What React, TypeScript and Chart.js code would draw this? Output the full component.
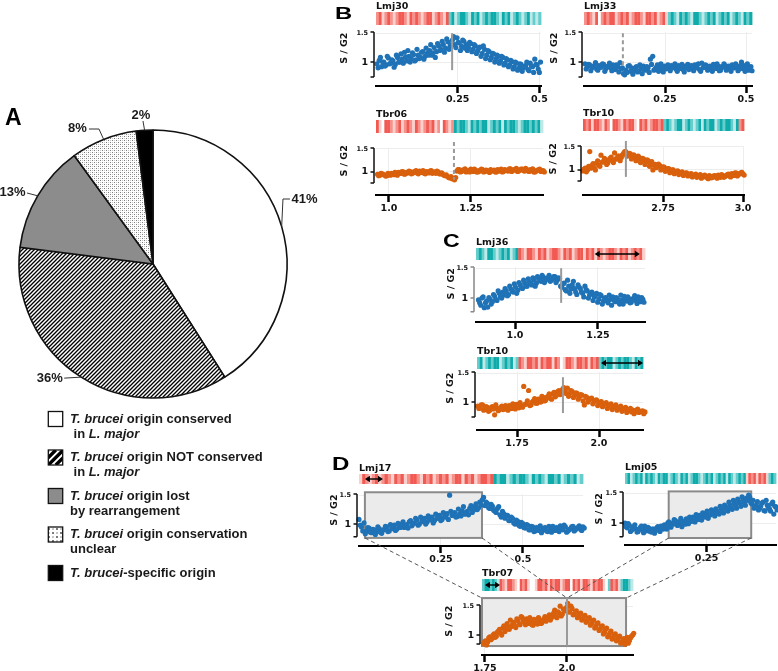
import React, { useEffect, useRef } from "react";
import { Chart, registerables } from "chart.js";
Chart.register(...registerables);

// ================= DATA =================
const pieCategories = [
  "T. brucei origin conserved in L. major",
  "T. brucei origin NOT conserved in L. major",
  "T. brucei origin lost by rearrangement",
  "T. brucei origin conservation unclear",
  "T. brucei-specific origin",
];
const pieValues = [41, 36, 13, 8, 2];
const pieValueLabels = pieValues.map((v) => v + "%");

// legend text: [text, italic]
const legendLines: [string, boolean][][][] = [
  [[["T. brucei", true], [" origin conserved", false]], [[" in ", false], ["L. major", true]]],
  [[["T. brucei", true], [" origin NOT conserved", false]], [[" in ", false], ["L. major", true]]],
  [[["T. brucei", true], [" origin lost", false]], [["by rearrangement", false]]],
  [[["T. brucei", true], [" origin conservation", false]], [["unclear", false]]],
  [[["T. brucei", true], ["-specific origin", false]]],
];

// S/G2 values (two interleaved sets of bins over each region)
const lmj30Y = [0.97,1.03,0.92,1.0,0.95,1.07,0.98,1.02,0.96,1.08,1.0,1.05,1.17,1.02,1.1,1.06,1.13,1.04,1.12,1.08,1.18,1.1,1.15,1.2,1.12,1.25,1.18,1.28,1.22,1.3,1.24,1.35,1.28,1.38,1.3,1.42,1.33,1.27,1.36,1.3,1.25,1.32,1.22,1.28,1.19,1.26,1.15,1.22,1.12,1.18,1.08,1.14,1.05,1.1,1.02,1.08,0.98,1.04,0.95,1.01,0.92,0.98,0.89,0.96,0.9,0.94,0.87,0.98,0.92,1.05,0.95,0.82];
const lmj30Y2 = [0.9,1.08,1.0,0.93,1.1,0.97,1.04,0.91,1.12,1.0,1.14,0.98,1.09,1.2,1.0,1.16,1.02,1.22,1.06,1.17,1.05,1.24,1.12,1.3,1.16,1.08,1.32,1.2,1.36,1.17,1.4,1.22,1.3,1.44,1.25,1.34,1.2,1.38,1.24,1.2,1.34,1.18,1.3,1.15,1.24,1.1,1.28,1.06,1.2,1.04,1.15,1.0,1.12,0.98,1.1,0.95,1.06,0.92,1.03,0.88,1.0,0.86,0.97,0.84,0.92,1.0,0.85,0.93,0.82,0.96,0.88,1.0];
const lmj33Y = [0.97,0.92,0.95,0.9,0.93,0.88,0.94,0.91,0.96,0.89,0.93,0.9,0.95,0.87,0.92,0.99,0.9,0.78,0.82,0.94,0.9,0.85,0.92,0.84,0.89,0.93,0.86,0.9,1.05,1.1,0.88,0.95,0.9,0.87,0.93,0.89,0.91,0.94,0.92,0.88,0.94,0.9,0.87,0.93,0.96,0.89,0.92,0.95,0.9,0.87,0.98,0.91,0.94,0.88,0.92,0.96,0.89,0.93,0.86,0.91,0.94,0.88,0.92,0.95,0.9,0.93,0.88,1.0,0.94,0.9,0.86,0.92];
const lmj33Y2 = [0.88,0.96,0.85,0.93,0.99,0.86,0.91,0.97,0.84,0.92,0.98,0.85,0.9,0.95,0.83,0.88,0.8,0.86,0.93,0.84,0.79,0.9,0.83,0.95,0.8,0.87,0.92,0.82,0.96,0.86,0.91,0.84,0.97,0.83,0.88,0.95,0.85,0.9,0.97,0.84,0.89,0.96,0.83,0.9,0.87,0.94,0.85,0.91,0.97,0.84,0.9,0.95,0.86,0.93,0.84,0.9,0.97,0.85,0.92,0.97,0.86,0.93,0.84,0.9,0.97,0.85,0.94,0.89,0.84,0.97,0.91,0.85];
const tbr06Y = [0.95,0.93,0.96,0.94,0.92,0.95,0.97,0.94,0.96,0.99,0.97,1.0,0.96,0.98,1.01,0.97,1.0,0.98,1.02,0.99,0.97,1.01,0.98,1.03,0.99,0.97,1.0,0.96,0.95,0.92,0.9,0.87,0.85,0.83,1.02,1.05,1.01,1.04,1.0,1.03,1.06,1.01,1.04,1.0,1.02,1.05,1.01,1.03,0.99,1.02,1.04,1.0,1.03,1.06,1.01,1.04,1.02,1.07,1.03,1.05,1.01,1.04,1.06,1.02,1.05,1.01,1.03,1.0,1.02,1.04,1.01,1.03];
const tbr06Y2 = [0.92,0.97,0.94,0.91,0.97,0.93,0.95,0.99,0.93,0.97,1.01,0.95,0.99,1.02,0.96,1.0,1.03,0.96,0.99,1.03,0.96,0.99,1.02,0.97,1.0,1.02,0.96,0.98,0.93,0.94,0.88,0.9,0.86,0.88,1.05,1.0,1.04,1.07,1.02,1.0,1.04,1.06,1.0,1.03,1.06,1.0,1.04,1.01,1.05,1.03,1.0,1.05,1.02,1.0,1.05,1.03,1.07,1.01,1.05,1.08,1.02,1.06,1.03,1.08,1.02,1.05,1.07,1.0,1.04,1.06,1.02,1.0];
const tbr10bY = [0.98,1.04,1.0,1.4,1.1,1.05,1.15,1.1,1.32,1.18,1.22,1.15,1.25,1.2,1.37,1.24,1.3,1.27,1.36,1.4,1.32,1.35,1.28,1.3,1.24,1.27,1.2,1.23,1.17,1.2,1.14,1.0,1.12,1.08,1.1,1.04,1.06,1.0,1.03,0.97,1.0,0.95,0.98,0.93,0.96,0.91,0.94,0.9,0.92,0.88,0.91,0.87,0.9,0.85,0.89,0.84,0.88,0.83,0.87,0.85,0.89,0.84,0.88,0.86,0.9,0.87,0.92,0.88,0.93,0.9,0.94,0.91];
const tbr10bY2 = [1.02,0.96,1.08,1.04,1.14,1.0,1.2,1.08,1.17,1.25,1.12,1.22,1.28,1.16,1.24,1.3,1.2,1.33,1.4,1.3,1.36,1.24,1.33,1.2,1.3,1.16,1.25,1.12,1.22,1.08,1.18,1.1,1.05,1.13,1.0,1.07,0.97,1.03,0.94,1.0,0.92,0.97,0.9,0.95,0.88,0.93,0.87,0.91,0.85,0.89,0.84,0.88,0.82,0.87,0.85,0.81,0.86,0.84,0.88,0.82,0.86,0.9,0.84,0.88,0.91,0.85,0.89,0.94,0.87,0.92,0.95,0.89];
const lmj36Y = [0.97,0.88,1.02,0.92,0.85,0.98,0.94,1.03,0.96,1.08,1.0,1.05,1.12,1.06,1.15,1.1,1.18,1.13,1.22,1.16,1.25,1.2,1.27,1.22,1.3,1.25,1.33,1.28,1.35,1.3,1.34,1.28,1.32,1.36,1.3,1.33,1.18,1.25,1.12,1.2,1.15,1.28,1.1,1.22,1.16,1.08,1.2,1.12,1.05,1.1,1.02,1.08,0.98,1.04,0.95,1.01,0.92,0.98,1.02,0.94,0.99,0.9,0.97,1.03,0.95,0.99,0.93,1.0,0.96,1.02,0.94,0.98];
const lmj36Y2 = [0.92,1.0,0.84,0.95,1.01,0.9,1.06,0.98,1.12,1.02,1.1,1.16,1.04,1.2,1.12,1.24,1.08,1.26,1.18,1.3,1.2,1.32,1.25,1.34,1.2,1.36,1.3,1.38,1.26,1.33,1.38,1.3,1.36,1.26,1.34,1.2,1.24,1.14,1.3,1.08,1.22,1.16,1.06,1.18,1.1,1.02,1.14,1.0,1.08,0.96,1.04,0.93,1.06,0.9,1.0,0.95,1.05,0.88,0.97,1.01,0.93,1.05,0.9,0.96,1.02,0.92,0.98,1.04,0.91,0.97,1.01,0.93];
const tbr10cY = [0.93,0.9,0.95,0.88,0.91,0.86,0.92,0.78,0.89,0.87,0.93,0.88,0.9,0.94,0.89,0.92,0.96,0.9,0.94,1.27,0.97,1.2,0.95,1.02,0.98,1.05,1.0,1.08,1.03,1.1,1.06,1.14,1.09,1.18,1.13,1.22,1.2,1.24,1.15,1.18,1.12,1.15,1.09,1.12,0.95,1.08,1.04,1.07,1.01,1.04,0.98,1.01,0.96,0.99,0.93,0.97,0.91,0.95,0.89,0.93,0.87,0.91,0.85,0.89,0.86,0.83,0.88,0.84,0.85,0.83];
const tbr10cY2 = [0.89,0.95,0.86,0.92,0.84,0.9,0.88,0.95,0.85,0.91,0.87,0.94,0.86,0.91,0.97,0.88,0.93,0.99,0.91,0.96,1.02,0.94,1.0,1.06,0.98,1.04,1.1,1.02,1.08,1.14,1.05,1.17,1.12,1.2,1.16,1.25,1.15,1.1,1.2,1.08,1.16,1.05,1.13,1.02,1.1,1.0,1.06,0.97,1.03,0.94,1.0,0.92,0.97,0.89,0.95,0.87,0.93,0.86,0.91,0.84,0.89,0.82,0.87,0.83,0.8,0.86,0.82,0.84,0.8,0.85];
const lmj17Y = [1.08,0.95,1.02,0.88,0.93,0.85,0.9,0.87,0.92,0.84,0.9,0.95,0.88,0.93,0.98,0.91,0.96,1.0,0.94,0.99,1.04,0.97,1.02,1.07,1.0,1.05,1.1,1.03,1.08,1.12,1.06,1.1,1.15,1.08,1.13,1.18,1.5,1.15,1.2,1.13,1.18,1.23,1.17,1.22,1.27,1.2,1.3,1.25,1.38,1.42,1.32,1.36,1.27,1.31,1.22,1.27,1.16,1.22,1.1,1.15,1.06,1.1,1.0,1.05,0.96,1.01,0.93,0.98,0.9,0.95,0.88,0.93,0.97,0.9,0.94,0.87,0.92,0.96,0.89,0.93,0.97,0.9,0.95,0.88,0.92,0.96,0.9,0.94,0.91,0.95];
const lmj17Y2 = [0.98,0.88,0.83,0.94,0.86,0.91,0.82,0.95,0.86,0.9,0.96,0.87,0.99,0.92,0.89,1.01,0.94,1.04,0.97,0.93,1.06,1.0,1.1,0.98,1.12,1.04,1.0,1.14,1.07,1.02,1.17,1.1,1.06,1.2,1.12,1.08,1.22,1.16,1.12,1.26,1.14,1.3,1.2,1.16,1.32,1.24,1.35,1.28,1.33,1.46,1.38,1.28,1.34,1.24,1.2,1.3,1.12,1.18,1.15,1.06,1.12,1.02,1.07,0.98,1.03,0.94,0.99,0.9,0.96,0.87,0.94,0.89,0.85,0.93,0.88,0.96,0.86,0.91,0.94,0.87,0.92,0.98,0.86,0.9,0.95,0.88,0.93,0.97,0.89,0.93];
const lmj05Y = [1.0,0.92,0.96,0.88,0.94,0.9,0.86,0.93,0.89,0.95,0.87,0.91,0.85,0.9,0.88,0.94,0.86,0.92,0.97,0.9,1.02,0.93,0.98,1.04,0.96,1.0,0.94,1.03,1.07,0.99,1.05,1.1,1.02,1.08,1.13,1.05,1.11,1.16,1.08,1.14,1.19,1.12,1.2,1.15,1.24,1.17,1.27,1.2,1.3,1.23,1.33,1.25,1.36,1.28,1.4,1.3,1.38,1.43,1.32,1.25,1.3,1.22,1.28,1.35,1.2,1.3,1.24,1.32,1.15,1.27];
const lmj05Y2 = [0.94,0.99,0.86,0.92,0.97,0.85,0.9,0.95,0.84,0.91,0.93,0.86,0.9,0.83,0.92,0.88,0.95,0.9,0.93,1.0,0.95,1.0,1.06,0.99,1.02,1.08,1.01,0.98,1.04,1.1,1.03,1.07,1.14,1.06,1.1,1.17,1.1,1.2,1.13,1.22,1.16,1.24,1.17,1.28,1.21,1.3,1.24,1.35,1.26,1.38,1.3,1.4,1.33,1.44,1.35,1.42,1.47,1.34,1.38,1.28,1.36,1.25,1.33,1.21,1.38,1.26,1.2,1.35,1.28,1.22];
const tbr07Y = [0.85,0.9,0.88,0.97,0.94,1.02,0.98,1.07,1.03,1.12,1.06,1.2,1.1,1.15,1.22,1.13,1.25,1.18,1.3,1.22,1.28,1.2,1.25,1.17,1.23,1.19,1.26,1.21,1.28,1.24,1.31,1.26,1.34,1.43,1.3,1.38,1.33,1.45,1.42,1.55,1.4,1.46,1.36,1.42,1.32,1.38,1.28,1.34,1.24,1.3,1.2,1.26,1.15,1.21,1.1,1.16,1.05,1.12,1.0,1.07,0.96,1.02,0.92,0.98,0.88,0.94,0.9,0.86,0.95,1.0];
const tbr07Y2 = [0.88,0.83,0.95,0.92,1.0,0.96,1.05,1.1,1.0,1.16,1.1,1.14,1.26,1.18,1.16,1.28,1.2,1.32,1.25,1.18,1.24,1.3,1.18,1.27,1.22,1.3,1.2,1.25,1.32,1.27,1.35,1.3,1.38,1.32,1.4,1.5,1.36,1.42,1.48,1.4,1.5,1.35,1.4,1.3,1.36,1.26,1.32,1.22,1.28,1.17,1.25,1.12,1.2,1.08,1.14,1.02,1.1,0.97,1.04,0.93,1.0,0.9,0.96,0.86,0.92,0.84,0.96,0.9,0.98,1.03];

// genomic span (Mb) covered by the bins
const lmj30Span = [0.003, 0.5];
const lmj33Span = [0.003, 0.515];
const tbr06Span = [0.965, 1.47];
const tbr10bSpan = [2.5, 3.0];
const lmj36Span = [0.89, 1.385];
const tbr10cSpan = [1.63, 2.14];
const lmj17Span = [0.0, 0.683];
const lmj05Span = [0.0, 0.463];
const tbr07Span = [1.745, 2.2];

// x tick values & labels
const lmj30Ticks = [0.25, 0.5];   const lmj30TickLabels = ["0.25", "0.5"];
const lmj33Ticks = [0.25, 0.5];   const lmj33TickLabels = ["0.25", "0.5"];
const tbr06Ticks = [1.0, 1.25];   const tbr06TickLabels = ["1.0", "1.25"];
const tbr10bTicks = [2.75, 3.0];  const tbr10bTickLabels = ["2.75", "3.0"];
const lmj36Ticks = [1.0, 1.25];   const lmj36TickLabels = ["1.0", "1.25"];
const tbr10cTicks = [1.75, 2.0];  const tbr10cTickLabels = ["1.75", "2.0"];
const lmj17Ticks = [0.25, 0.5];   const lmj17TickLabels = ["0.25", "0.5"];
const lmj05Ticks = [0.25];        const lmj05TickLabels = ["0.25"];
const tbr07Ticks = [1.75, 2.0];   const tbr07TickLabels = ["1.75", "2.0"];
const yTicks = [1, 1.5];

// gene-direction strips (R/r/p = red shades, C/c/q = cyan shades, w = none)
const lmj30Strip = "rRprRrprRRrpRrRrprRRprRrpRcCqcCCcqCcCqcCcCCcqCcCqcCcqcCqcqc";
const lmj33Strip = "rRrpRwrRrRRprRrRprRRrpRRrRprRpcCcqCcCcqCCcqcCcCqcCcCqcCcqCcC";
const tbr06Strip = "RpwRRrprRprRrpRrprRrRprwRrprCcCCcqCcCcCCqcCcCqCcCCcqcCCcCcCq";
const tbr10bStrip = "RrRpRRrpRrwRRrpRrRRpwRrRprRRrRcCcqcCCqcCcqcCqCcCCqcCcCCcqCrR";
const lmj36Strip = "cCcqCCcqcCcCqcCRrpRRrpRrRprRRrpRrRprRRpRrRpRrprRRrpRrRprRrRp";
const tbr10cStrip = "cCqcCcCCqcCcCqcRrpRRrRpRrRRpRrwpRRrpRRrRpRrRcCcCCqcCcCCcqCcC";
const lmj17Strip = "pRrprRprRrpRrRprRRrpRrRprRrRprRRpRrRprRRrRCcCCqcCcCCcqCcCcqCCcCqcCcCqc";
const lmj05Strip = "cCqcCcCqCcCcqCcCCqcCcqCcCqcCCcqcCcCqcCcCqCcqcCcCpRrRpRrRpcCc";
const tbr07Strip = "cCCcCcqRrpRRrpwRrRpwwpRRrRpRrRRprRRwRrRpRRrpRrRRpwcRrRpcCCcq";

// replication-origin positions [x, yTop, yBottom]
const lmj30Origin = [0.233, 1.5, 0.86];
const lmj33Origin = [0.12, 1.5, 0.9];
const tbr06Origin = [1.198, 1.65, 0.83];
const tbr10bOrigin = [2.634, 1.63, 0.85];
const lmj36Origin = [1.139, 1.5, 0.92];
const tbr10cOrigin = [1.89, 1.43, 0.81];
const tbr07Origin = [2.0, 1.64, 0.81];

// double arrows [x0, x1]
const lmj36Arrow = [1.24, 1.376];
const tbr10cArrow = [2.006, 2.134];
const lmj17Arrow = [0.018, 0.073];
const tbr07Arrow = [1.75, 1.796];

// zoom boxes [x0, x1, yTop, yBottom]
const lmj17Box = [0.018, 0.375, 1.55, 0.76];
const lmj05Box = [0.134, 0.387, 1.53, 0.75];
const tbr07Box = [1.741, 2.18, 1.64, 0.81];

// ================= STYLE / LAYOUT =================
const W = 778, H = 671;
const BLUE = "#1f72b6";
const ORANGE = "#d9600c";
const STRIP_COLORS: Record<string, string> = {
  R: "#f15a52", r: "#f6928b", p: "#fbd0cc", w: "#ffffff",
  C: "#0fabab", c: "#66cdcd", q: "#bde9e9",
};
const TXT = '"DejaVu Sans", "Liberation Sans", sans-serif';
const ARIAL = '"Liberation Sans", Arial, sans-serif';

type Panel = {
  key: string; name: string; color: string; ys: number[]; ys2: number[]; span: number[];
  xMin: number; xMax: number; yMin: number; axisBottom: number;
  ticks: number[]; tickLabels: string[]; strip: string;
  origin?: number[]; dashed?: boolean; arrow?: number[]; box?: number[];
  L: number; R: number; T: number; B: number; stripTop: number; stripH: number;
  titleDx: number; axisColor: string;
};

const panels: Panel[] = [
  { key: "lmj30", name: "Lmj30", color: BLUE, ys: lmj30Y, ys2: lmj30Y2, span: lmj30Span, xMin: 0, xMax: 0.505, yMin: 0.586, axisBottom: 0.74,
    ticks: lmj30Ticks, tickLabels: lmj30TickLabels, strip: lmj30Strip, origin: lmj30Origin,
    L: 376, R: 541, T: 32, B: 86, stripTop: 12, stripH: 13, titleDx: 31, axisColor: "#111" },
  { key: "lmj33", name: "Lmj33", color: BLUE, ys: lmj33Y, ys2: lmj33Y2, span: lmj33Span, xMin: 0, xMax: 0.5185, yMin: 0.586, axisBottom: 0.74,
    ticks: lmj33Ticks, tickLabels: lmj33TickLabels, strip: lmj33Strip, origin: lmj33Origin, dashed: true,
    L: 584, R: 752, T: 32, B: 86, stripTop: 12, stripH: 13, titleDx: 29, axisColor: "#111" },
  { key: "tbr06", name: "Tbr06", color: ORANGE, ys: tbr06Y, ys2: tbr06Y2, span: tbr06Span, xMin: 0.9604, xMax: 1.4695, yMin: 0.5, axisBottom: 0.76,
    ticks: tbr06Ticks, tickLabels: tbr06TickLabels, strip: tbr06Strip, origin: tbr06Origin, dashed: true,
    L: 376, R: 543, T: 148, B: 195, stripTop: 120, stripH: 13, titleDx: 31, axisColor: "#111" },
  { key: "tbr10b", name: "Tbr10", color: ORANGE, ys: tbr10bY, ys2: tbr10bY2, span: tbr10bSpan, xMin: 2.5, xMax: 3.003, yMin: 0.457, axisBottom: 0.76,
    ticks: tbr10bTicks, tickLabels: tbr10bTickLabels, strip: tbr10bStrip, origin: tbr10bOrigin,
    L: 583, R: 744, T: 146, B: 195, stripTop: 119, stripH: 12, titleDx: 29, axisColor: "#111" },
  { key: "lmj36", name: "Lmj36", color: BLUE, ys: lmj36Y, ys2: lmj36Y2, span: lmj36Span, xMin: 0.8825, xMax: 1.3916, yMin: 0.6, axisBottom: 0.77,
    ticks: lmj36Ticks, tickLabels: lmj36TickLabels, strip: lmj36Strip, origin: lmj36Origin, arrow: lmj36Arrow,
    L: 476, R: 645, T: 267, B: 322, stripTop: 248, stripH: 12, titleDx: 24, axisColor: "#888" },
  { key: "tbr10c", name: "Tbr10", color: ORANGE, ys: tbr10cY, ys2: tbr10cY2, span: tbr10cSpan, xMin: 1.628, xMax: 2.134, yMin: 0.517, axisBottom: 0.74,
    ticks: tbr10cTicks, tickLabels: tbr10cTickLabels, strip: tbr10cStrip, origin: tbr10cOrigin, arrow: tbr10cArrow,
    L: 477, R: 643, T: 372, B: 430, stripTop: 357, stripH: 12, titleDx: 26, axisColor: "#111" },
  { key: "lmj17", name: "Lmj17", color: BLUE, ys: lmj17Y, ys2: lmj17Y2, span: lmj17Span, xMin: 0, xMax: 0.683, yMin: 0.62, axisBottom: 0.78,
    ticks: lmj17Ticks, tickLabels: lmj17TickLabels, strip: lmj17Strip, arrow: lmj17Arrow, box: lmj17Box,
    L: 359, R: 583, T: 494, B: 546, stripTop: 474, stripH: 10, titleDx: 24, axisColor: "#111" },
  { key: "lmj05", name: "Lmj05", color: BLUE, ys: lmj05Y, ys2: lmj05Y2, span: lmj05Span, xMin: 0, xMax: 0.463, yMin: 0.633, axisBottom: 0.77,
    ticks: lmj05Ticks, tickLabels: lmj05TickLabels, strip: lmj05Strip, box: lmj05Box,
    L: 625, R: 776, T: 492, B: 545, stripTop: 473, stripH: 11, titleDx: 25, axisColor: "#111" },
  { key: "tbr07", name: "Tbr07", color: ORANGE, ys: tbr07Y, ys2: tbr07Y2, span: tbr07Span, xMin: 1.741, xMax: 2.2012, yMin: 0.655, axisBottom: 0.845,
    ticks: tbr07Ticks, tickLabels: tbr07TickLabels, strip: tbr07Strip, origin: tbr07Origin, arrow: tbr07Arrow, box: tbr07Box,
    L: 482, R: 633, T: 605, B: 655, stripTop: 579, stripH: 12, titleDx: 32, axisColor: "#111" },
];

const Y_AXIS_W = 45, X_AXIS_H = 24, PAD_R = 14;
function geom(p: Panel) {
  const left = p.L - Y_AXIS_W;
  const top = p.stripTop - 14;
  const w = p.R - p.L + Y_AXIS_W + PAD_R;
  const h = p.B - top + X_AXIS_H;
  return { left, top, w, h, padTop: p.T - top };
}

// pie label placement relative to slice-edge midpoint: text offset and leader path
const pieLabelStyle = [
  { dx: 22.8, dy: -27.6, leader: [[1.3, -27.6], [8.3, -27.6]] },
  { dx: -31.5, dy: 1, leader: [[-17, 1]] },
  { dx: -25.2, dy: -3.8, leader: [[-10.7, -2.8]] },
  { dx: -26.2, dy: -10.9, leader: [[-4.7, -10.4], [-14.7, -10.4]] },
  { dx: -3.6, dy: -15.3, leader: [[-1.6, -9.3]] },
];

function hatchPattern(size: number, lw: number, fg: string, bg: string) {
  const c = document.createElement("canvas");
  c.width = size; c.height = size;
  const g = c.getContext("2d")!;
  g.fillStyle = bg; g.fillRect(0, 0, size, size);
  g.strokeStyle = fg; g.lineWidth = lw;
  g.beginPath();
  g.moveTo(-1, size + 1); g.lineTo(size + 1, -1);
  g.moveTo(-1, 1); g.lineTo(1, -1);
  g.moveTo(size - 1, size + 1); g.lineTo(size + 1, size - 1);
  g.stroke();
  return g.createPattern(c, "repeat")!;
}
function dotPattern(scale: number) {
  const s = 4 * scale;
  const c = document.createElement("canvas");
  c.width = s; c.height = s;
  const g = c.getContext("2d")!;
  g.fillStyle = "#fff"; g.fillRect(0, 0, s, s);
  g.fillStyle = "#7c7c7c";
  g.fillRect(0, 0, scale, scale); g.fillRect(2 * scale, 2 * scale, scale, scale);
  g.fillStyle = "#c8c8c8";
  g.fillRect(2 * scale, 0, scale, scale); g.fillRect(0, 2 * scale, scale, scale);
  return g.createPattern(c, "repeat")!;
}

function drawRich(ctx: CanvasRenderingContext2D, segs: [string, boolean][], x: number, y: number) {
  let cx = x;
  segs.forEach(([t, it]) => {
    ctx.font = `${it ? "italic " : ""}bold 13px ${ARIAL}`;
    ctx.fillText(t, cx, y);
    cx += ctx.measureText(t).width;
  });
}

function makePiePlugin(fills: any[]) {
  return {
    id: "pieDeco",
    afterDraw(chart: any) {
      const ctx: CanvasRenderingContext2D = chart.ctx;
      const meta = chart.getDatasetMeta(0);
      ctx.save();
      meta.data.forEach((arc: any, i: number) => {
        const { x, y, startAngle, endAngle, outerRadius } = arc.getProps(["x", "y", "startAngle", "endAngle", "outerRadius"], true);
        const a = (startAngle + endAngle) / 2;
        const mx = x + Math.cos(a) * outerRadius;
        const my = y + Math.sin(a) * outerRadius;
        const st = pieLabelStyle[i];
        ctx.strokeStyle = "#333"; ctx.lineWidth = 1; ctx.setLineDash([]);
        ctx.beginPath(); ctx.moveTo(mx, my);
        st.leader.forEach(([dx, dy]) => ctx.lineTo(mx + dx, my + dy));
        ctx.stroke();
        ctx.fillStyle = "#1a1a1a";
        ctx.font = `bold 13px ${ARIAL}`;
        ctx.textAlign = "center"; ctx.textBaseline = "middle";
        ctx.fillText(pieValueLabels[i], mx + st.dx, my + st.dy);
      });
      // legend
      ctx.textAlign = "left"; ctx.textBaseline = "alphabetic";
      legendLines.forEach((lines, i) => {
        const base = 422.5 + 38.5 * i;
        const bx = 48.3, by = base - 11, bw = 14.4, bh = 15;
        ctx.save();
        ctx.beginPath(); ctx.rect(bx, by, bw, bh); ctx.clip();
        if (i === 1) {
          ctx.fillStyle = "#fff"; ctx.fillRect(bx, by, bw, bh);
          ctx.strokeStyle = "#000"; ctx.lineWidth = 3.4;
          ctx.beginPath();
          for (let k = -bh; k < bw + bh; k += 7.5) { ctx.moveTo(bx + k, by + bh); ctx.lineTo(bx + k + bh, by); }
          ctx.stroke();
        } else {
          ctx.fillStyle = fills[i]; ctx.fillRect(bx, by, bw, bh);
        }
        ctx.restore();
        ctx.strokeStyle = "#111"; ctx.lineWidth = 1.3;
        ctx.strokeRect(bx, by, bw, bh);
        ctx.fillStyle = "#1a1a1a";
        lines.forEach((segs, j) => drawRich(ctx, segs, 70, base + 15 * j));
      });
      ctx.restore();
    },
  };
}

function makePanelPlugin(p: Panel, g: ReturnType<typeof geom>) {
  return {
    id: "deco_" + p.key,
    beforeDatasetsDraw(chart: any) {
      if (!p.box) return;
      const { x, y } = chart.scales;
      const ctx: CanvasRenderingContext2D = chart.ctx;
      const x0 = x.getPixelForValue(p.box[0]), x1 = x.getPixelForValue(p.box[1]);
      const y0 = y.getPixelForValue(p.box[2]), y1 = y.getPixelForValue(p.box[3]);
      ctx.save();
      ctx.fillStyle = "#ebebeb"; ctx.fillRect(x0, y0, x1 - x0, y1 - y0);
      ctx.strokeStyle = "#8a8a8a"; ctx.lineWidth = 2; ctx.strokeRect(x0, y0, x1 - x0, y1 - y0);
      ctx.restore();
    },
    afterDatasetsDraw(chart: any) {
      if (!p.origin) return;
      const { x, y } = chart.scales;
      const ctx: CanvasRenderingContext2D = chart.ctx;
      const ox = x.getPixelForValue(p.origin[0]);
      ctx.save();
      ctx.strokeStyle = "#9a9a9a"; ctx.lineWidth = 2;
      ctx.setLineDash(p.dashed ? [4, 3] : []);
      ctx.beginPath();
      ctx.moveTo(ox, y.getPixelForValue(p.origin[1]));
      ctx.lineTo(ox, y.getPixelForValue(p.origin[2]));
      ctx.stroke();
      ctx.restore();
    },
    afterDraw(chart: any) {
      const { x, y } = chart.scales;
      const ctx: CanvasRenderingContext2D = chart.ctx;
      const ca = chart.chartArea;
      ctx.save();
      // y axis bracket
      const ax = ca.left - 2;
      const yt = y.getPixelForValue(1.52), yb = y.getPixelForValue(p.axisBottom);
      ctx.strokeStyle = p.axisColor; ctx.lineWidth = 1.5;
      ctx.beginPath();
      ctx.moveTo(ax, yt); ctx.lineTo(ax, yb);
      [yt, y.getPixelForValue(1), yb].forEach((yy) => { ctx.moveTo(ax - 3.5, yy); ctx.lineTo(ax, yy); });
      ctx.stroke();
      // y title
      ctx.save();
      ctx.translate(ca.left - p.titleDx, y.getPixelForValue(1.24));
      ctx.rotate(-Math.PI / 2);
      ctx.fillStyle = "#111";
      ctx.font = `bold 9.5px ${TXT}`;
      ctx.textAlign = "center"; ctx.textBaseline = "middle";
      ctx.fillText("S / G2", 0, 0);
      ctx.restore();
      // strip
      const sTop = p.stripTop - g.top;
      const n = p.strip.length;
      for (let i = 0; i < n; i++) {
        const xa = x.getPixelForValue(p.xMin + (i * (p.xMax - p.xMin)) / n);
        const xb = x.getPixelForValue(p.xMin + ((i + 1) * (p.xMax - p.xMin)) / n);
        ctx.fillStyle = STRIP_COLORS[p.strip[i]] || "#fff";
        ctx.fillRect(xa, sTop, xb - xa + 0.4, p.stripH);
      }
      // label
      ctx.fillStyle = "#111";
      ctx.font = `bold 9.5px ${TXT}`;
      ctx.textAlign = "left"; ctx.textBaseline = "alphabetic";
      ctx.fillText(p.name, ca.left, sTop - 3.5);
      // arrow
      if (p.arrow) {
        const a0 = x.getPixelForValue(p.arrow[0]), a1 = x.getPixelForValue(p.arrow[1]);
        const ay = sTop + p.stripH / 2;
        ctx.strokeStyle = "#000"; ctx.fillStyle = "#000"; ctx.lineWidth = 1.4;
        ctx.beginPath(); ctx.moveTo(a0 + 3, ay); ctx.lineTo(a1 - 3, ay); ctx.stroke();
        ctx.beginPath();
        ctx.moveTo(a0, ay); ctx.lineTo(a0 + 5, ay - 3.2); ctx.lineTo(a0 + 5, ay + 3.2); ctx.closePath();
        ctx.moveTo(a1, ay); ctx.lineTo(a1 - 5, ay - 3.2); ctx.lineTo(a1 - 5, ay + 3.2); ctx.closePath();
        ctx.fill();
      }
      ctx.restore();
    },
  };
}

function binPoints(ys: number[], span: number[], shift: number) {
  const n = ys.length;
  const step = (span[1] - span[0]) / (n - 1);
  return ys.map((v, i) => ({ x: span[0] + i * step + shift * step, y: v }));
}

function makePanelChart(canvas: HTMLCanvasElement, p: Panel) {
  const g = geom(p);
  const pts = binPoints(p.ys, p.span, 0).concat(binPoints(p.ys2, p.span, 0.5));
  return new Chart(canvas, {
    type: "scatter",
    data: {
      datasets: [{
        data: pts, pointRadius: 2.6, pointBackgroundColor: p.color, pointBorderWidth: 0,
        pointHoverRadius: 2.6, showLine: false, clip: 5,
      } as any],
    },
    options: {
      animation: false, responsive: false, maintainAspectRatio: false, events: [],
      layout: { padding: { top: g.padTop, right: PAD_R, left: 0, bottom: 0 } },
      plugins: { legend: { display: false }, tooltip: { enabled: false } },
      scales: {
        x: {
          type: "linear", min: p.xMin, max: p.xMax, offset: false,
          afterBuildTicks: (s: any) => { s.ticks = p.ticks.map((v) => ({ value: v })); },
          afterFit: (s: any) => { s.height = X_AXIS_H; },
          border: { display: true, color: "#000", width: 2 },
          grid: { color: "#ededed", lineWidth: 1, drawTicks: true, tickLength: 7, tickColor: "#000", tickWidth: 2.5 },
          ticks: {
            autoSkip: false, maxRotation: 0, padding: 1, color: "#111",
            font: { family: TXT, weight: "bold", size: 9.5 },
            callback: (v: any) => { const i = p.ticks.indexOf(Number(v)); return i >= 0 ? p.tickLabels[i] : ""; },
          },
        },
        y: {
          type: "linear", min: p.yMin, max: 1.52,
          afterBuildTicks: (s: any) => { s.ticks = yTicks.map((v) => ({ value: v })); },
          afterFit: (s: any) => { s.width = Y_AXIS_W; },
          border: { display: false },
          grid: { color: "#ededed", lineWidth: 1, drawTicks: false },
          ticks: {
            padding: 8, color: "#111",
            font: (c: any) => ({ family: TXT, weight: "bold", size: c.tick && c.tick.value === 1 ? 9.5 : 6.5 }),
            callback: (v: any) => String(v),
          },
        },
      },
    } as any,
    plugins: [makePanelPlugin(p, g)],
  });
}

const letters = [
  { t: "A", x: 5, y: 125, fs: 23, sx: 1.0 },
  { t: "B", x: 335, y: 18.5, fs: 17, sx: 1.4 },
  { t: "C", x: 443, y: 246.5, fs: 18.5, sx: 1.25 },
  { t: "D", x: 332, y: 470, fs: 18.5, sx: 1.3 },
];

export default function App() {
  const pieRef = useRef<HTMLCanvasElement>(null);
  const panelRefs = useRef<(HTMLCanvasElement | null)[]>([]);
  const overlayRef = useRef<HTMLCanvasElement>(null);

  useEffect(() => {
    const charts: Chart[] = [];
    const hatch = hatchPattern(4, 1.3, "#000", "#fff");
    const dots = dotPattern(1);
    const dotsBig = dotPattern(2);
    const fills = ["#ffffff", hatch, "#8c8c8c", dots, "#000000"];
    const legendFills = ["#ffffff", hatch, "#8c8c8c", dotsBig, "#000000"];
    if (pieRef.current) {
      charts.push(new Chart(pieRef.current, {
        type: "pie",
        data: {
          labels: pieCategories,
          datasets: [{
            data: pieValues, backgroundColor: fills, borderColor: "#111", borderWidth: 1.6,
            hoverOffset: 0, offset: 0, radius: 134,
          } as any],
        },
        options: {
          animation: false, responsive: false, maintainAspectRatio: false, events: [],
          radius: 134,
          layout: { padding: { left: 19, right: 43, top: 130, bottom: 202 } },
          plugins: { legend: { display: false }, tooltip: { enabled: false } },
        } as any,
        plugins: [makePiePlugin(legendFills)],
      }));
    }
    const byKey: Record<string, { chart: Chart; g: ReturnType<typeof geom> }> = {};
    panels.forEach((p, i) => {
      const c = panelRefs.current[i];
      if (!c) return;
      const ch = makePanelChart(c, p);
      charts.push(ch);
      byKey[p.key] = { chart: ch, g: geom(p) };
    });

    const ov = overlayRef.current;
    if (ov) {
      const ctx = ov.getContext("2d")!;
      ctx.clearRect(0, 0, W, H);
      letters.forEach((l) => {
        ctx.save();
        ctx.translate(l.x, l.y);
        ctx.scale(l.sx, 1);
        ctx.fillStyle = "#000";
        ctx.font = `bold ${l.fs}px ${ARIAL}`;
        ctx.textBaseline = "alphabetic";
        ctx.fillText(l.t, 0, 0);
        ctx.restore();
      });
      const pt = (key: string, xv: number, yv: number) => {
        const e = byKey[key];
        if (!e) return [0, 0];
        const s: any = e.chart.scales;
        return [e.g.left + s.x.getPixelForValue(xv), e.g.top + s.y.getPixelForValue(yv)];
      };
      const links = [
        [pt("lmj17", lmj17Box[0], lmj17Box[3]), pt("tbr07", tbr07Box[0], tbr07Box[2])],
        [pt("lmj17", lmj17Box[1], lmj17Box[3]), pt("tbr07", tbr07Origin[0], tbr07Box[2])],
        [pt("lmj05", lmj05Box[0], lmj05Box[3]), pt("tbr07", tbr07Origin[0], tbr07Box[2])],
        [pt("lmj05", lmj05Box[1], lmj05Box[3]), pt("tbr07", tbr07Box[1], tbr07Box[2])],
      ];
      ctx.save();
      ctx.strokeStyle = "#555"; ctx.lineWidth = 1; ctx.setLineDash([4, 3]);
      links.forEach(([a, b]) => { ctx.beginPath(); ctx.moveTo(a[0], a[1]); ctx.lineTo(b[0], b[1]); ctx.stroke(); });
      ctx.restore();
    }
    return () => { charts.forEach((c) => c.destroy()); };
  }, []);

  return (
    <div style={{ position: "absolute", left: 0, top: 0, width: W, height: H, overflow: "hidden", background: "#fff" }}>
      <canvas ref={pieRef} width={330} height={600} style={{ position: "absolute", left: 0, top: 0, width: 330, height: 600 }} />
      {panels.map((p, i) => {
        const g = geom(p);
        return (
          <canvas
            key={p.key}
            ref={(el) => { panelRefs.current[i] = el; }}
            width={g.w}
            height={g.h}
            style={{ position: "absolute", left: g.left, top: g.top, width: g.w, height: g.h }}
          />
        );
      })}
      <canvas ref={overlayRef} width={W} height={H} style={{ position: "absolute", left: 0, top: 0, width: W, height: H, pointerEvents: "none" }} />
    </div>
  );
}
